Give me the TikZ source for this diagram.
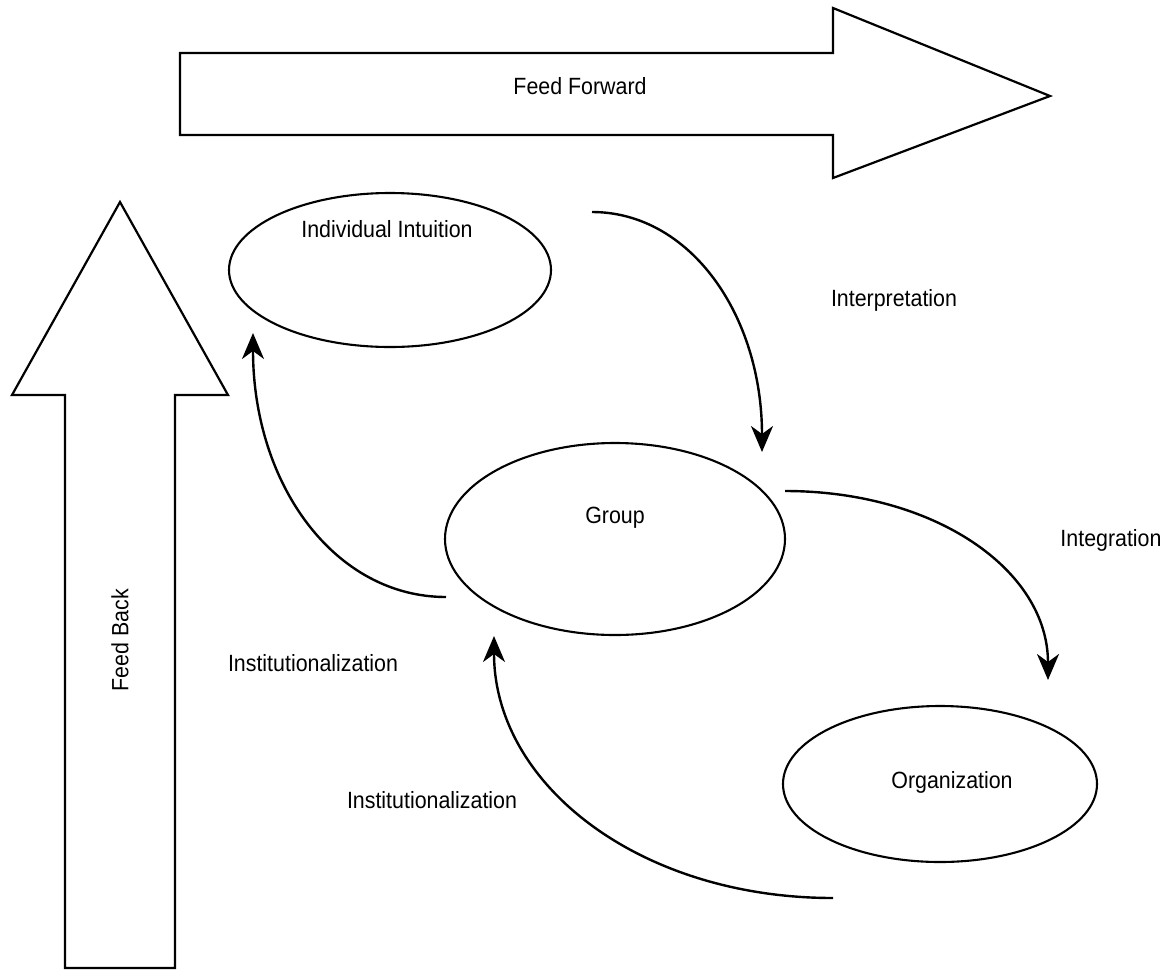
\documentclass[tikz,border=0pt]{standalone}
\usepackage{fontspec}
\usepackage{graphicx}
\setmainfont{Liberation Sans}
\usetikzlibrary{shapes.geometric,arrows.meta}
% slightly condensed lettering
\newcommand{\cond}[1]{\scalebox{0.91}[1]{#1}}
\begin{document}
\begin{tikzpicture}[x=1pt,y=-1pt,
  bigarrow/.style={draw=black,line width=2.2pt,line join=miter,fill=white},
  stage/.style={draw=black,line width=2.1pt,ellipse,inner sep=0pt,outer sep=0pt},
  lbl/.style={font=\fontsize{23.5}{28}\selectfont,inner sep=0pt},
  flow/.style={line width=2.4pt,-{Stealth[length=26pt,width=22pt,inset=8pt]}}
]
\useasboundingbox (0,0) rectangle (1173,970);

% feed-forward block arrow
\draw[bigarrow] (180,53) -- (833,53) -- (833,8) -- (1050,96) -- (833,178)
  -- (833,135) -- (180,135) -- cycle;
\node[lbl] (ff) at (580,86) {\cond{Feed Forward}};

% feed-back block arrow
\draw[bigarrow] (65,968) -- (65,395) -- (12,395) -- (120,202) -- (228,395)
  -- (175,395) -- (175,968) -- cycle;
\node[lbl,rotate=90] (fb) at (120,640) {\cond{Feed Back}};

% the three levels
\node[stage,minimum width=322pt,minimum height=154pt] (ind) at (390,270) {};
\node[lbl] (indt) at (387,229) {\cond{Individual Intuition}};
\node[stage,minimum width=340pt,minimum height=192pt] (grp) at (615,539) {};
\node[lbl] (grpt) at (615,518) {\cond{Group}};
\node[stage,minimum width=314pt,minimum height=156pt] (org) at (940,784) {};
\node[lbl] (orgt) at (952,782) {\cond{Organization}};

% connector end points
\coordinate (i1s) at (592,212);
\coordinate (i1e) at (762,452);
\coordinate (i2s) at (785,491);
\coordinate (i2e) at (1048,680);
\coordinate (f1s) at (446,597);
\coordinate (f1e) at (253,333);
\coordinate (f2s) at (833,898);
\coordinate (f2e) at (494,636);

\draw[flow] (i1s) .. controls (690,212) and (762,315) .. (i1e);
\draw[flow] (i2s) .. controls (935,491) and (1048,570) .. (i2e);
\draw[flow] (f1s) .. controls (335,597) and (253,485) .. (f1e);
\draw[flow] (f2s) .. controls (640,898) and (494,785) .. (f2e);

% process labels
\node[lbl] (interp) at (894,300) {\cond{Interpretation}};
\node[lbl] (integ) at (1111,540) {\cond{Integration}};
\node[lbl] (inst1) at (313,663) {\cond{Institutionalization}};
\node[lbl] (inst2) at (432,800) {\cond{Institutionalization}};
\end{tikzpicture}
\end{document}
